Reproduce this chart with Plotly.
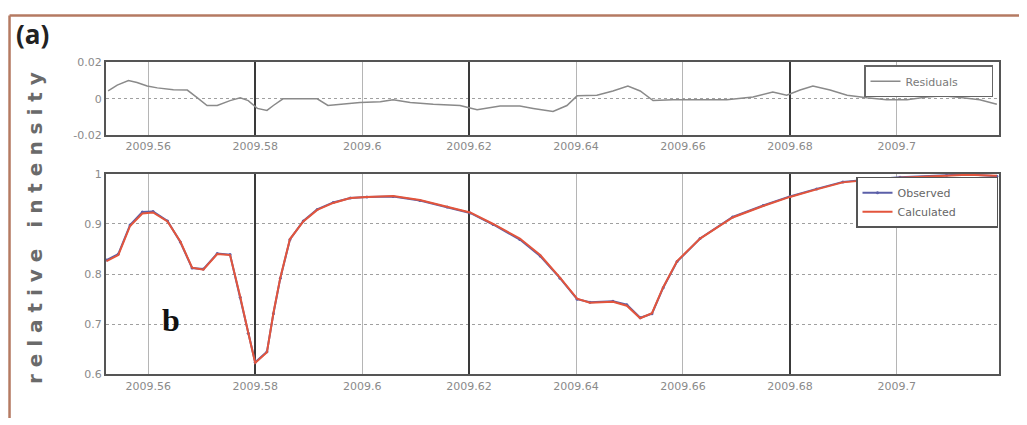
import plotly.graph_objects as go

# ---- data ----
tick_vals = [2009.56, 2009.58, 2009.60, 2009.62, 2009.64, 2009.66, 2009.68, 2009.70]
tick_text = ["2009.56", "2009.58", "2009.6", "2009.62", "2009.64", "2009.66", "2009.68", "2009.7"]
dark_ticks = [2009.58, 2009.62, 2009.68]

t_fit = [2009.5522, 2009.5544, 2009.5566, 2009.5589, 2009.5609, 2009.5636, 2009.5660, 2009.5682,
         2009.5703, 2009.5729, 2009.5753, 2009.5772, 2009.5787, 2009.5800, 2009.5822, 2009.5834,
         2009.5847, 2009.5865, 2009.5890, 2009.5916, 2009.5946, 2009.5978, 2009.6009, 2009.6058,
         2009.6108, 2009.6159, 2009.6202, 2009.6245, 2009.6295, 2009.6333, 2009.6370, 2009.6402,
         2009.6426, 2009.6469, 2009.6495, 2009.6520, 2009.6542, 2009.6563, 2009.6589, 2009.6632,
         2009.6693, 2009.6750, 2009.6800, 2009.6850, 2009.6899, 2009.6950, 2009.7006, 2009.7093,
         2009.7131, 2009.7187]
calculated = [0.826, 0.838, 0.896, 0.921, 0.923, 0.905, 0.865, 0.813, 0.809, 0.840, 0.838, 0.755,
              0.683, 0.623, 0.644, 0.722, 0.793, 0.870, 0.905, 0.928, 0.942, 0.952, 0.954, 0.956,
              0.948, 0.935, 0.923, 0.900, 0.871, 0.838, 0.793, 0.751, 0.743, 0.745, 0.737, 0.712,
              0.722, 0.774, 0.826, 0.871, 0.913, 0.936, 0.954, 0.969, 0.983, 0.988, 0.992, 0.996,
              0.998, 0.996]
observed = [0.828, 0.840, 0.898, 0.924, 0.925, 0.906, 0.864, 0.812, 0.810, 0.841, 0.839, 0.754,
            0.682, 0.624, 0.645, 0.721, 0.792, 0.869, 0.906, 0.929, 0.943, 0.952, 0.954, 0.955,
            0.947, 0.934, 0.922, 0.899, 0.869, 0.836, 0.792, 0.750, 0.744, 0.746, 0.739, 0.713,
            0.721, 0.773, 0.825, 0.871, 0.914, 0.937, 0.955, 0.970, 0.984, 0.989, 0.993, 0.997,
            0.999, 0.995]

t_res = [2009.5525, 2009.5542, 2009.5563, 2009.5579, 2009.5598, 2009.5617, 2009.5647, 2009.5673,
         2009.5692, 2009.5710, 2009.5729, 2009.5753, 2009.5772, 2009.5787, 2009.5804, 2009.5822,
         2009.5834, 2009.5852, 2009.5884, 2009.5916, 2009.5936, 2009.5959, 2009.5996, 2009.6034,
         2009.6058, 2009.6090, 2009.6133, 2009.6183, 2009.6215, 2009.6258, 2009.6295, 2009.6320,
         2009.6357, 2009.6383, 2009.6402, 2009.6439, 2009.6469, 2009.6497, 2009.6520, 2009.6544,
         2009.6581, 2009.6632, 2009.6682, 2009.6731, 2009.6768, 2009.6794, 2009.6819, 2009.6843,
         2009.6875, 2009.6907, 2009.6944, 2009.6981, 2009.7019, 2009.7056, 2009.7086, 2009.7123,
         2009.7155, 2009.7187]
residuals = [0.0043, 0.0075, 0.0100, 0.0090, 0.0070, 0.0060, 0.0050, 0.0048, 0.0005, -0.0037,
             -0.0037, -0.0010, 0.0005, -0.0010, -0.0053, -0.0064, -0.0037, 0.0000, 0.0000, 0.0000,
             -0.0037, -0.0030, -0.0020, -0.0016, -0.0005, -0.0020, -0.0030, -0.0037, -0.0060, -0.0040,
             -0.0040, -0.0053, -0.0070, -0.0037, 0.0016, 0.0020, 0.0043, 0.0070, 0.0043, -0.0010,
             -0.0005, -0.0005, -0.0005, 0.0010, 0.0037, 0.0020, 0.0048, 0.0070, 0.0048, 0.0020,
             0.0005, -0.0005, -0.0005, 0.0010, 0.0016, 0.0005, -0.0005, -0.0030]

res_ticks = [-0.02, 0, 0.02]
res_ticktext = ["-0.02", "0", "0.02"]
int_ticks = [0.6, 0.7, 0.8, 0.9, 1.0]
int_ticktext = ["0.6", "0.7", "0.8", "0.9", "1"]

# page body has an 8px margin; the figure sits at (8, 8)
W, H = 1019, 417


def px(x):
    return (x - 8) / W


def py(y):
    return 1 - (y - 8) / H


x_dom = [px(106), px(999)]
top_dom = [py(133), py(58)]
bot_dom = [py(380), py(173)]
x_range = [2009.5521, 2009.7191]

nb = "\u00a0"
fig = go.Figure()
fig.add_trace(go.Scatter(x=t_res, y=residuals, mode="lines", name="Residuals" + nb * 8,
                         line=dict(color="#8a8a8a", width=1.5), xaxis="x", yaxis="y",
                         legend="legend"))
fig.add_trace(go.Scatter(x=t_fit, y=observed, mode="lines+markers", name="Observed",
                         line=dict(color="#5b5fa8", width=2), marker=dict(size=3, color="#5b5fa8"),
                         xaxis="x2", yaxis="y2", legend="legend2"))
fig.add_trace(go.Scatter(x=t_fit, y=calculated, mode="lines", name="Calculated" + nb * 10,
                         line=dict(color="#e3553c", width=2), xaxis="x2", yaxis="y2",
                         legend="legend2"))

tickfont = dict(family="DejaVu Sans", size=11, color="#8a8a8a")
axis_common = dict(showline=True, linecolor="#555555", linewidth=2, mirror=True,
                   ticks="", tickfont=tickfont, zeroline=False)
dark_axis = dict(range=x_range, tickvals=dark_ticks, showticklabels=False, showgrid=True,
                 gridcolor="#3a3a3a", gridwidth=1.5, showline=False, ticks="", zeroline=False)

fig.update_layout(
    width=W, height=H,
    margin=dict(l=0, r=0, t=0, b=0),
    paper_bgcolor="white", plot_bgcolor="white",
    xaxis=dict(domain=x_dom, anchor="y", range=x_range, tickvals=tick_vals, ticktext=tick_text,
               showgrid=True, gridcolor="#b5b5b5", gridwidth=1, **axis_common),
    yaxis=dict(domain=top_dom, anchor="x", range=[-0.02, 0.02], tickvals=res_ticks,
               ticktext=res_ticktext, showgrid=True, gridcolor="#a0a0a0", griddash="dot",
               **axis_common),
    xaxis2=dict(domain=x_dom, anchor="y2", range=x_range, tickvals=tick_vals, ticktext=tick_text,
                showgrid=True, gridcolor="#b5b5b5", gridwidth=1, **axis_common),
    yaxis2=dict(domain=bot_dom, anchor="x2", range=[0.6, 1.0], tickvals=int_ticks,
                ticktext=int_ticktext, showgrid=True, gridcolor="#a0a0a0", griddash="dot",
                **axis_common),
    xaxis3=dict(overlaying="x", anchor="y", domain=x_dom, **dark_axis),
    xaxis4=dict(overlaying="x2", anchor="y2", domain=x_dom, **dark_axis),
    legend=dict(x=px(993), y=py(61), xanchor="right", yanchor="top",
                bgcolor="white", bordercolor="#666666", borderwidth=1.5,
                font=dict(family="DejaVu Sans", size=11, color="#7a7a7a"),
                itemwidth=30, tracegroupgap=0),
    legend2=dict(x=px(998), y=py(176), xanchor="right", yanchor="top",
                 bgcolor="white", bordercolor="#555555", borderwidth=1.5,
                 font=dict(family="DejaVu Sans", size=11, color="#666666"),
                 itemwidth=30, tracegroupgap=0),
    showlegend=True,
)

# empty helper traces so the overlay axes are drawn
fig.add_trace(go.Scatter(x=[], y=[], xaxis="x3", yaxis="y", showlegend=False, hoverinfo="skip"))
fig.add_trace(go.Scatter(x=[], y=[], xaxis="x4", yaxis="y2", showlegend=False, hoverinfo="skip"))

spaced = nb.join(list("relative")) + nb * 3 + nb.join(list("intensity"))
fig.add_annotation(text="<b>" + spaced + "</b>", textangle=-90, x=px(35), y=py(229),
                   xref="paper", yref="paper", showarrow=False,
                   font=dict(family="DejaVu Sans", size=20, color="#6a6a6a"),
                   xanchor="center", yanchor="middle")
fig.add_annotation(text="<b>(a)</b>", x=px(14), y=py(29), xref="paper", yref="paper",
                   showarrow=False, font=dict(family="Open Sans", size=26, color="#222222"),
                   xanchor="left", yanchor="middle")
fig.add_annotation(text="<b>b</b>", x=px(171), y=py(324), xref="paper", yref="paper",
                   showarrow=False, font=dict(family="Liberation Serif", size=32, color="#111111"),
                   xanchor="center", yanchor="middle")

# brown frame (top and left edges)
fig.add_shape(type="line", xref="paper", yref="paper", x0=0.0015, x1=1.0, y0=py(9.5), y1=py(9.5),
              line=dict(color="#b57a62", width=2.5))
fig.add_shape(type="line", xref="paper", yref="paper", x0=0.0015, x1=0.0015, y0=0, y1=py(9.5),
              line=dict(color="#b57a62", width=2.5))

fig.write_html("out.html")
